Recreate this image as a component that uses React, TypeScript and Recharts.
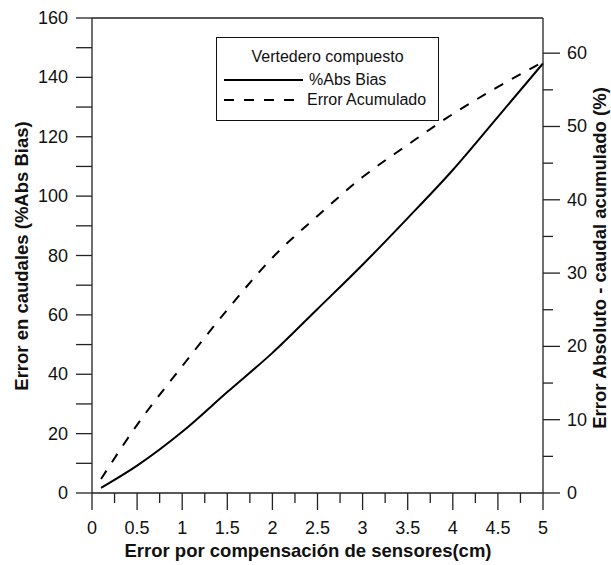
import React from "react";
import { ComposedChart, Line, XAxis, YAxis, ReferenceLine, Legend } from "recharts";

const FONT = '"Liberation Sans", Arial, sans-serif';

// compensation error (cm)
const xValues = [0.1, 0.5, 1, 1.5, 2, 2.5, 3, 3.5, 4, 4.5, 5];
// %Abs Bias (left axis)
const absBias = [1.7, 9.2, 20.6, 34.0, 47.2, 62.0, 76.9, 92.6, 108.8, 126.7, 144.7];
// Error acumulado (right axis, %)
const errorAcumulado = [1.9, 9.3, 17.3, 25.0, 32.1, 37.8, 43.1, 47.5, 51.7, 55.4, 58.8];

const xTicks = [0, 0.25, 0.5, 0.75, 1, 1.25, 1.5, 1.75, 2, 2.25, 2.5, 2.75, 3, 3.25, 3.5, 3.75, 4, 4.25, 4.5, 4.75, 5];
const leftTicks = [0, 10, 20, 30, 40, 50, 60, 70, 80, 90, 100, 110, 120, 130, 140, 150, 160];
const rightTicks = [0, 5, 10, 15, 20, 25, 30, 35, 40, 45, 50, 55, 60];

const data = xValues.map((x, i) => ({ x, bias: absBias[i], acum: errorAcumulado[i] }));

const LeftTick = ({ x, y, payload }: any) => {
  const major = payload.value % 20 === 0;
  return (
    <g>
      <line x1={x - 16} x2={x} y1={y} y2={y} stroke="#222" strokeWidth={1.3} />
      {major && (
        <text x={x - 24} y={y} textAnchor="end" dominantBaseline="central" fontSize={18} fontFamily={FONT} fill="#111">
          {payload.value}
        </text>
      )}
    </g>
  );
};

const RightTick = ({ x, y, payload }: any) => {
  const major = payload.value % 10 === 0;
  return (
    <g>
      <line x1={x} x2={x + (major ? 17 : 10)} y1={y} y2={y} stroke="#222" strokeWidth={1.3} />
      {major && (
        <text x={x + 24} y={y} textAnchor="start" dominantBaseline="central" fontSize={18} fontFamily={FONT} fill="#111">
          {payload.value}
        </text>
      )}
    </g>
  );
};

const BottomTick = ({ x, y, payload }: any) => {
  const major = Math.abs(payload.value * 2 - Math.round(payload.value * 2)) < 1e-6;
  return (
    <g>
      <line x1={x} x2={x} y1={y} y2={y + (major ? 17 : 10)} stroke="#222" strokeWidth={1.3} />
      {major && (
        <text x={x} y={y + 35} textAnchor="middle" dominantBaseline="central" fontSize={18} fontFamily={FONT} fill="#111">
          {payload.value}
        </text>
      )}
    </g>
  );
};

const LegendBox = () => (
  <div
    style={{
      width: 223,
      height: 84,
      boxSizing: "border-box",
      border: "1px solid #111",
      background: "#fff",
      position: "relative",
      fontFamily: FONT,
      fontSize: 16,
      color: "#111",
    }}
  >
    <div style={{ position: "absolute", left: 0, right: 0, top: 10, textAlign: "center" }}>Vertedero compuesto</div>
    <svg width={90} height={84} style={{ position: "absolute", left: 0, top: 0 }}>
      <line x1={7} x2={86} y1={42} y2={42} stroke="#000" strokeWidth={2} />
      <line x1={7} x2={86} y1={62} y2={62} stroke="#000" strokeWidth={2} strokeDasharray="10 10" />
    </svg>
    <div style={{ position: "absolute", left: 92, top: 33 }}>%Abs Bias</div>
    <div style={{ position: "absolute", left: 90, top: 53 }}>Error Acumulado</div>
  </div>
);

const titleStyle: React.CSSProperties = {
  position: "absolute",
  fontFamily: FONT,
  fontWeight: "bold",
  fontSize: 18.5,
  color: "#111",
  whiteSpace: "nowrap",
};

export default function App() {
  return (
    <div style={{ position: "relative", width: 611, height: 565, background: "#fff" }}>
      <style>{"body{margin:0}"}</style>
      <ComposedChart width={611} height={565} data={data} margin={{ top: 18, right: 0, bottom: 0, left: 0 }}>
        <XAxis
          type="number"
          dataKey="x"
          domain={[0, 5]}
          ticks={xTicks}
          interval={0}
          height={72}
          tickSize={0}
          tickMargin={0}
          tickLine={false}
          tick={<BottomTick />}
          axisLine={{ stroke: "#222", strokeWidth: 1.3 }}
        />
        <YAxis
          yAxisId="left"
          orientation="left"
          type="number"
          domain={[0, 160]}
          ticks={leftTicks}
          interval={0}
          width={92}
          tickSize={0}
          tickMargin={0}
          tickLine={false}
          tick={<LeftTick />}
          axisLine={{ stroke: "#222", strokeWidth: 1.3 }}
        />
        <YAxis
          yAxisId="right"
          orientation="right"
          type="number"
          domain={[0, 64.8]}
          ticks={rightTicks}
          interval={0}
          width={68}
          tickSize={0}
          tickMargin={0}
          tickLine={false}
          tick={<RightTick />}
          axisLine={{ stroke: "#222", strokeWidth: 1.3 }}
        />
        <ReferenceLine yAxisId="left" y={160} stroke="#222" strokeWidth={1.3} />
        <Legend
          layout="horizontal"
          verticalAlign="middle"
          align="center"
          wrapperStyle={{ left: 216, top: 37, width: 223 }}
          content={() => <LegendBox />}
        />
        <Line
          yAxisId="left"
          type="monotone"
          dataKey="bias"
          name="%Abs Bias"
          stroke="#000"
          strokeWidth={2}
          dot={false}
          isAnimationActive={false}
        />
        <Line
          yAxisId="right"
          type="monotone"
          dataKey="acum"
          name="Error Acumulado"
          stroke="#000"
          strokeWidth={2}
          strokeDasharray="10 10"
          dot={false}
          isAnimationActive={false}
        />
      </ComposedChart>
      <div style={{ ...titleStyle, left: 21.5, top: 255.5, transform: "translate(-50%, -50%) rotate(-90deg)" }}>
        Error en caudales (%Abs Bias)
      </div>
      <div style={{ ...titleStyle, left: 600, top: 258, transform: "translate(-50%, -50%) rotate(-90deg)" }}>
        Error Absoluto - caudal acumulado (%)
      </div>
      <div style={{ ...titleStyle, left: 308, top: 551, transform: "translate(-50%, -50%)" }}>
        Error por compensación de sensores(cm)
      </div>
    </div>
  );
}
